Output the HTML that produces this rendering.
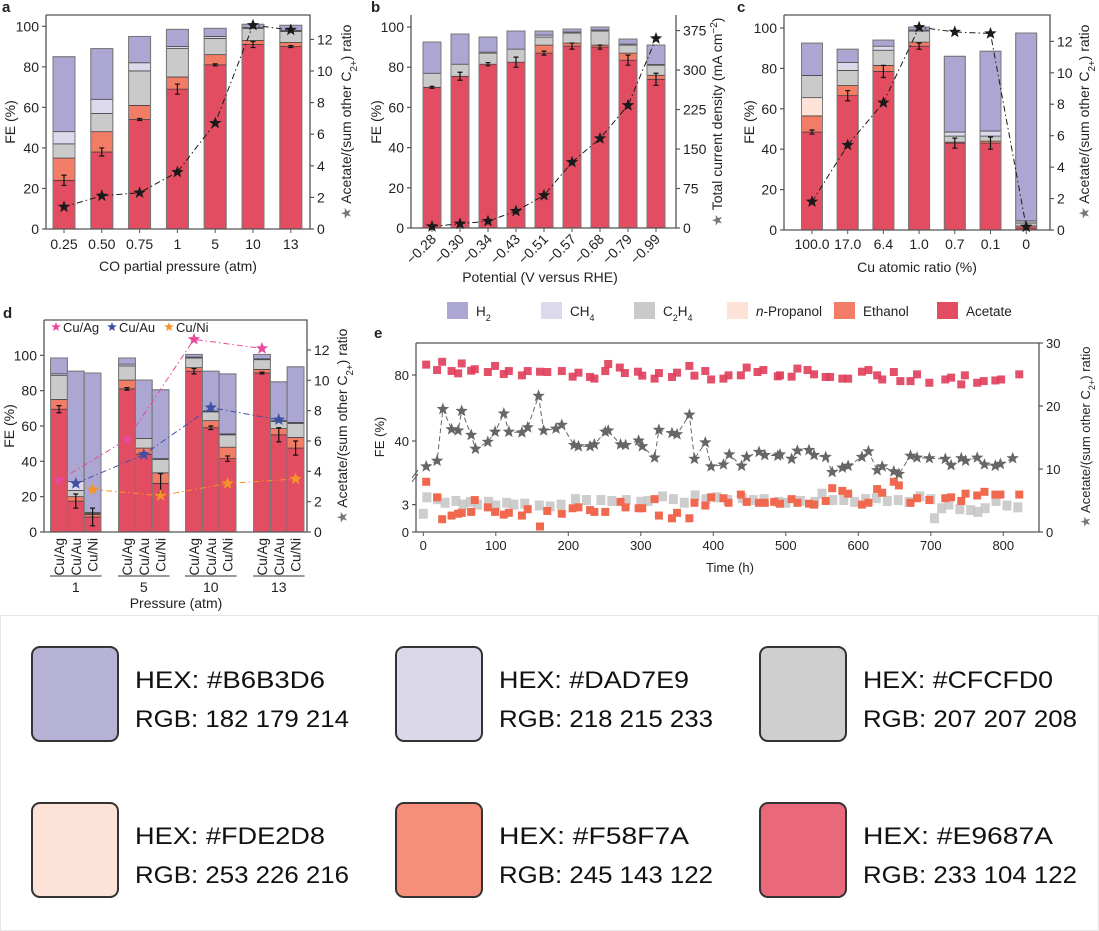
<!DOCTYPE html>
<html><head><meta charset="utf-8">
<style>
html,body{margin:0;padding:0;background:#fff;}
svg{display:block;font-family:"Liberation Sans",Arial,sans-serif;}
</style></head>
<body>
<svg id="fig" width="1099" height="931" viewBox="0 0 1099 931" xmlns="http://www.w3.org/2000/svg">
<rect x="0" y="0" width="1099" height="931" fill="#fff"/>
<rect x="0.5" y="615.5" width="1098" height="315" fill="#fff" stroke="#e6e6e6"/>
</svg>
<script>
// ---------- Panel a data ----------
const aCats=["0.25","0.50","0.75","1","5","10","13"];
const aAcetate=[24,38,54,69,81,91,90];
const aEthanol=[11,10,7,6,5,2,2];
const aPropanol=[0,0,0,0,0,0,0];
const aC2H4=[7,9,17,14,8,6,5.5];
const aCH4=[6,7,4,1,1,0.5,0.5];
const aH2=[37,25,13,8.5,4,1.5,2.5];
const aErr=[2.5,2,0.5,2.5,0.5,1.5,0.5];
const aRatio=[1.4,2.1,2.3,3.6,6.7,12.9,12.6];
const aYTicks=[0,20,40,60,80,100];
const aRTicks=[0,2,4,6,8,10,12];
// ---------- Panel b data ----------
const bCats=["\u22120.28","\u22120.30","\u22120.34","\u22120.43","\u22120.51","\u22120.57","\u22120.68","\u22120.79","\u22120.99"];
const bAcetate=[70,75.5,81.5,82.5,87,90.5,90,83.5,74];
const bEthanol=[0,0,0,0,4,1.5,1,3.5,2];
const bPropanol=[0,0,0,0,0,0,0,0,0];
const bC2H4=[7,6,5.5,6.5,4,5,7,4,5];
const bCH4=[0,0,0.5,0,1,0.5,0.5,0.5,0.3];
const bH2=[15.5,15,7.5,9,2,1.5,1.5,2.5,9.7];
const bErr=[0.5,2,0.8,2.5,1,1.5,1,2.5,3];
const bCurrent=[3,8,13,32,62,125,170,233,360];
const bYTicks=[0,20,40,60,80,100];
const bRTicks=[0,75,150,225,300,375];
// ---------- Panel c data ----------
const cCats=["100.0","17.0","6.4","1.0","0.7","0.1","0"];
const cAcetate=[48.5,66.5,78.5,91,43,43,1];
const cEthanol=[8,5,3,2,0.5,1,1];
const cPropanol=[9,0,0,0,0,0,0];
const cC2H4=[11,7.5,7.5,5.5,3,2.5,1.5];
const cCH4=[0,4,2,0.5,2,2.5,1];
const cH2=[16,6.5,3,1.5,37.5,39.5,93];
const cErr=[1,2.5,3,1.5,2.5,3,0];
const cRatio=[1.8,5.4,8.1,12.9,12.6,12.5,0.2];
const cYTicks=[0,20,40,60,80,100];
const cRTicks=[0,2,4,6,8,10,12];
// ---------- Panel d data ----------
const dGroups=["1","5","10","13"];
const dAlloys=["Cu/Ag","Cu/Au","Cu/Ni"];
const dAcetate=[69.5,17.5,8.5, 81,44,27.5, 91,59,41.5, 90,55,47.5];
const dEthanol=[5.5,2.5,1.5, 5,3.5,6, 2,4,6.5, 2,3.5,6];
const dPropanol=[0,0,0, 0,0,0, 0,0,0, 0,0,0];
const dC2H4=[13.5,3.5,0.5, 8,5.5,7.5, 5.5,5,7, 5.5,4,8];
const dCH4=[1,5,0.5, 1,0,0.5, 0.5,0.5,0.5, 0.5,0.5,0.5];
const dH2=[9,62.5,79, 3.5,33,39, 1.5,22.5,34, 2.5,22,31.5];
const dErr=[2,4,5, 0.7,1,5.5, 1.5,1,1.5, 0.5,4,4];
const dRatioAg=[3.4,6.1,12.7,12.1];
const dRatioAu=[3.2,5.1,8.2,7.4];
const dRatioNi=[2.8,2.4,3.2,3.5];
const dYTicks=[0,20,40,60,80,100];
const dRTicks=[0,2,4,6,8,10,12];
// ---------- Panel e data ----------
const eAcT=[4,19,26,39,48,53,66,71,89,99,111,118,136,144,161,171,191,206,214,230,236,251,255,271,278,296,302,319,325,343,350,367,374,389,397,414,421,438,446,461,469,489,492,508,516,530,539,555,561,578,586,605,614,626,633,649,658,672,681,698,720,728,742,747,764,773,789,797,822];
const eAcV=[86.3,83,88,82.4,81,87,82.6,83.5,81.8,85.5,80.6,82.4,79.8,82.4,82,81.8,82.4,79,81.4,78.8,77.8,82.4,86.7,84.5,81.2,82,79.6,77.8,81.2,78.8,81.4,85.5,79.6,82.4,77.3,77.8,79.8,79.8,84.5,81.8,83,79.2,79.8,79,83.9,83,80.4,78.8,78.8,77.8,77.8,82,83,79.8,77.3,81.8,76.3,76.3,80.4,75.3,77.3,78.4,74.3,79.8,75.3,76.3,76.7,77.3,80.4];
const eEtT=[4,19,26,39,48,53,66,71,89,99,111,118,136,144,161,171,191,206,214,230,236,251,272,279,297,302,319,325,343,350,367,374,389,397,414,421,438,446,463,471,484,492,508,516,532,539,555,564,578,586,605,614,626,633,649,656,672,681,698,720,728,742,748,764,774,789,796,822];
const eEtV=[5.5,3.8,1.4,1.8,2.0,2.1,2.2,3.5,2.7,2.2,1.9,2.1,1.8,2.5,0.6,2.3,2.0,2.6,2.7,2.4,2.2,2.2,3.3,2.7,2.6,2.6,3.6,1.8,1.5,2.1,1.5,3.2,2.9,3.8,3.7,3.2,4.1,3.3,3.2,3.2,3.3,3.1,3.6,3.2,3.1,3.0,3.4,4.8,4.5,4.2,3.0,3.2,4.7,4.3,5.5,5.1,3.2,3.7,3.5,3.7,3.8,3.4,4.2,4.0,4.4,4.1,4.1,4.1];
const eGrT=[0,5,20,30,45,55,65,75,90,100,115,125,140,160,175,190,210,225,245,260,280,300,310,330,345,360,375,390,405,420,440,455,470,490,500,520,540,550,565,580,595,610,625,640,655,670,685,700,705,715,725,740,755,765,775,790,805,820];
const eGrV=[2,3.8,3.6,3.2,3.4,3.0,3.3,3.0,3.3,2.9,3.2,3.0,3.1,2.9,2.8,3.0,3.6,3.5,3.5,3.4,3.5,3.3,3.4,3.9,3.6,3.2,4.0,3.6,3.8,3.5,3.7,3.5,3.6,3.3,3.2,3.4,3.3,4.2,3.5,3.5,3.3,3.6,3.7,3.4,3.5,3.3,3.9,3.6,1.5,2.6,3.0,2.5,2.4,2.2,2.6,3.4,2.9,2.7];
const eStT=[4,19,27,39,48,53,66,72,89,99,111,118,136,144,159,166,183,191,208,214,230,236,251,255,272,279,297,302,319,325,343,350,367,374,389,397,414,422,439,446,463,471,489,492,508,516,532,539,555,564,578,586,605,614,626,633,649,656,672,681,698,720,728,742,748,764,774,789,796,813];
const eStV=[10.4,11.3,19.5,16.3,16.1,19.2,15.4,13.2,14.3,15.9,18.8,15.9,15.8,16.6,21.6,16.1,16.4,17,13.8,13.6,13.6,13.9,15.9,16.1,13.9,13.8,14.5,13.6,11.8,16.2,15.7,15.5,18.6,11.6,14.2,10.4,10.7,12.3,10.5,11.9,12.7,12.2,12.1,12.3,11.6,12.9,13,12.2,11.9,9.5,10.2,10.5,11.9,12.8,9.8,10.4,9.6,9.2,12.1,11.8,11.7,11.6,10.6,11.7,11.3,11.8,10.7,10.5,10.8,11.7];
const eXTicks=[0,100,200,300,400,500,600,700,800];
const eYTicksUpper=[40,80];
const eYTicksLower=[0,3];
const eRTicks=[0,10,20,30];
// ---------- Swatches ----------
const swHex=["#B6B3D6","#DAD7E9","#CFCFD0","#FDE2D8","#F58F7A","#E9687A"];
const swRgb=["182 179 214","218 215 233","207 207 208","253 226 216","245 143 122","233 104 122"];

const NS='http://www.w3.org/2000/svg';
const svg=document.getElementById('fig');
const COL=['#e24d62','#f27d67','#fde2d8','#c9cac9','#dcd9ec','#aba7d2'];
const SEG=['acetate','ethanol','n-propanol','c2h4','ch4','h2'];
const AX='#555', TX='#222';
function mk(tag,attrs,parent){const e=document.createElementNS(NS,tag);for(const k in attrs)e.setAttribute(k,attrs[k]);(parent||svg).appendChild(e);return e;}
function T(parent,x,y,s,size,anchor,extra){const e=mk('text',Object.assign({x:x,y:y,'font-size':size,'text-anchor':anchor||'middle',fill:TX},extra||{}),parent);e.textContent=s;return e;}
function starPath(cx,cy,r){let d='';for(let i=0;i<10;i++){const a=-Math.PI/2+i*Math.PI/5;const rr=i%2?r*0.42:r;d+=(i?'L':'M')+(cx+rr*Math.cos(a)).toFixed(1)+','+(cy+rr*Math.sin(a)).toFixed(1);}return d+'Z';}
function group(name){const g=mk('g',{});return g;}

function drawStack(g,cx,w,yF,vals,err,name){
  let cum=0;
  for(let i=0;i<6;i++){
    if(vals[i]>0){
      const y0=yF(cum),y1=yF(cum+vals[i]);
      const r=mk('rect',{x:cx-w/2,y:y1,width:w,height:y0-y1,fill:COL[i],stroke:'#3a3a3a','stroke-width':0.7},g);
      
      
    }
    cum+=vals[i];
  }
  const o=mk('rect',{x:cx-w/2,y:yF(cum),width:w,height:yF(0)-yF(cum),fill:'none',stroke:'#7a7a7a','stroke-width':1},g);
  
  
  if(err>0){
    const t=yF(vals[0]+err),b=yF(vals[0]-err);
    const e=mk('path',{d:`M${cx},${t}V${b}M${cx-2.5},${t}H${cx+2.5}M${cx-2.5},${b}H${cx+2.5}`,stroke:'#111','stroke-width':1.2,fill:'none'},g);
    
    
  }
}
function frame(g,L,R,Tp,B,top){
  const d=`M${L},${Tp}V${B}H${R}V${Tp}`+(top?`H${L}`:'');
  const f=mk('path',{d:d,fill:'none',stroke:AX,'stroke-width':1.3},g);
  
  
}
function yAxisL(g,L,yF,ticks,size){
  ticks.forEach(v=>{const y=yF(v);
    const t=mk('line',{x1:L-4,x2:L,y1:y,y2:y,stroke:AX,'stroke-width':1.2},g);
    
    
    const l=T(g,L-7,y+5,String(v),size,'end');
    
    });
}
function yAxisR(g,R,yF,ticks,size){
  ticks.forEach(v=>{const y=yF(v);
    const t=mk('line',{x1:R,x2:R+4,y1:y,y2:y,stroke:AX,'stroke-width':1.2},g);
    
    
    const l=T(g,R+7,y+5,String(v),size,'start');
    
    });
}
function rotLabel(g,x,y,parts,size,name){
  const t=mk('text',{x:0,y:0,'font-size':size,'text-anchor':'middle',fill:TX,transform:`translate(${x},${y}) rotate(-90)`},g);
  
  
  parts.forEach(p=>{const s=mk('tspan',p.a||{},t);s.textContent=p.s;});
  return t;
}
function ratioLabel(g,x,y,size){
  return rotLabel(g,x,y,[{s:'\u2605 ',a:{fill:'#777'}},{s:'Acetate/(sum other C'},{s:'2+',a:{'baseline-shift':'sub','font-size':size*0.7}},{s:') ratio'}],size,'right-y-axis-title');
}
function starLine(g,xs,ys,color,dash,name){
  let d='';xs.forEach((x,i)=>{d+=(i?'L':'M')+x+','+ys[i];});
  const p=mk('path',{d:d,fill:'none',stroke:color,'stroke-width':1,'stroke-dasharray':dash},g);
  
  
  xs.forEach((x,i)=>{const s=mk('path',{d:starPath(x,ys[i],6.5),fill:color},g);
    
    });
}
function panelLetter(x,y,s){const t=T(svg,x,y,s,15,'start',{'font-weight':'bold'});}

// ---------- Panel a ----------
(function(){
  const g=group('panel-a');
  const L=46,R=310,Tp=15,B=229;
  const yF=v=>B-v*2.027, rF=v=>B-v*15.8, xF=i=>64+i*37.8;
  aCats.forEach((c,i)=>drawStack(g,xF(i),22,yF,[aAcetate[i],aEthanol[i],aPropanol[i],aC2H4[i],aCH4[i],aH2[i]],aErr[i],'bar-a-'+c));
  frame(g,L,R,Tp,B,true);
  yAxisL(g,L,yF,aYTicks,14);yAxisR(g,R,rF,aRTicks,14);
  aCats.forEach((c,i)=>{const t=mk('line',{x1:xF(i),x2:xF(i),y1:B,y2:B+4,stroke:AX},g);
    const l=T(g,xF(i),B+20,c,14);});
  starLine(g,aCats.map((c,i)=>xF(i)),aRatio.map(rF),'#1a1a1a','6,3,1.5,3','ratio-a');
  const xt=T(g,178,271,'CO partial pressure (atm)',14);
  rotLabel(g,15,122,[{s:'FE (%)'}],14,'y-axis-title');
  ratioLabel(g,351,122,14);
})();
// ---------- Panel b ----------
(function(){
  const g=group('panel-b');
  const L=411,R=676,Tp=15,B=228;
  const yF=v=>B-v*2.01, rF=v=>B-v*0.5265, xF=i=>432+i*28;
  bCats.forEach((c,i)=>drawStack(g,xF(i),18,yF,[bAcetate[i],bEthanol[i],bPropanol[i],bC2H4[i],bCH4[i],bH2[i]],bErr[i],'bar-b-'+i));
  frame(g,L,R,Tp,B,false);
  yAxisL(g,L,yF,bYTicks,14);yAxisR(g,R,rF,bRTicks,14);
  bCats.forEach((c,i)=>{const t=mk('line',{x1:xF(i),x2:xF(i),y1:B,y2:B+4,stroke:AX},g);
    const l=T(g,0,0,c,14,'end',{transform:`translate(${xF(i)+5},${B+12}) rotate(-45)`});});
  starLine(g,bCats.map((c,i)=>xF(i)),bCurrent.map(rF),'#1a1a1a','6,3,1.5,3','current-b');
  const xt=T(g,540,282,'Potential (V versus RHE)',14);
  rotLabel(g,381,122,[{s:'FE (%)'}],14,'y-axis-title');
  rotLabel(g,722,122,[{s:'\u2605 ',a:{fill:'#777'}},{s:'Total current density (mA cm'},{s:'\u22122',a:{'baseline-shift':'super','font-size':10}},{s:')'}],14,'right-y-axis-title');
})();
// ---------- Panel c ----------
(function(){
  const g=group('panel-c');
  const L=784,R=1050,Tp=15,B=230;
  const yF=v=>B-v*2.02, rF=v=>B-v*15.72, xF=i=>812+i*35.7;
  cCats.forEach((c,i)=>drawStack(g,xF(i),21,yF,[cAcetate[i],cEthanol[i],cPropanol[i],cC2H4[i],cCH4[i],cH2[i]],cErr[i],'bar-c-'+i));
  frame(g,L,R,Tp,B,true);
  yAxisL(g,L,yF,cYTicks,14);yAxisR(g,R,rF,cRTicks,14);
  cCats.forEach((c,i)=>{const t=mk('line',{x1:xF(i),x2:xF(i),y1:B,y2:B+4,stroke:AX},g);
    const l=T(g,xF(i),B+19,c,14);});
  starLine(g,cCats.map((c,i)=>xF(i)),cRatio.map(rF),'#1a1a1a','6,3,1.5,3','ratio-c');
  const xt=T(g,917,272,'Cu atomic ratio (%)',14);
  rotLabel(g,754,122,[{s:'FE (%)'}],14,'y-axis-title');
  ratioLabel(g,1089,122,14);
})();
// ---------- Legend ----------
(function(){
  const g=group('legend');
  const items=[['H','2',447],['CH','4',541],['C','2',634],['n-Propanol','',727],['Ethanol','',834],['Acetate','',937]];
  const cols=[COL[5],COL[4],COL[3],COL[2],COL[1],COL[0]];
  items.forEach((it,i)=>{
    const r=mk('rect',{x:it[2],y:302,width:21,height:17,fill:cols[i]},g);
    
    
    const t=mk('text',{x:it[2]+29,y:316,'font-size':13.5,fill:TX},g);
    
    
    if(i===2){const a=mk('tspan',{},t);a.textContent='C';const b=mk('tspan',{'baseline-shift':'sub','font-size':9},t);b.textContent='2';const c=mk('tspan',{},t);c.textContent='H';const d=mk('tspan',{'baseline-shift':'sub','font-size':9},t);d.textContent='4';}
    else if(i===3){const a=mk('tspan',{'font-style':'italic'},t);a.textContent='n';const b=mk('tspan',{},t);b.textContent='-Propanol';}
    else {const a=mk('tspan',{},t);a.textContent=it[0];if(it[1]){const b=mk('tspan',{'baseline-shift':'sub','font-size':9},t);b.textContent=it[1];}}
  });
})();
// ---------- Panel d ----------
(function(){
  const g=group('panel-d');
  const L=44,R=307,Tp=320,B=532;
  const yF=v=>B-v*1.767, rF=v=>B-v*15.17;
  const gx=[59,127,194,262];
  const xF=(gi,ai)=>gx[gi]+ai*16.8;
  dGroups.forEach((gr,gi)=>dAlloys.forEach((al,ai)=>{const k=gi*3+ai;
    drawStack(g,xF(gi,ai),16.8,yF,[dAcetate[k],dEthanol[k],dPropanol[k],dC2H4[k],dCH4[k],dH2[k]],dErr[k],'bar-d-'+gr+'-'+al);
    const l=T(g,0,0,al,13.5,'end',{transform:`translate(${xF(gi,ai)+5},${B+6}) rotate(-90)`});
    
    
  }));
  frame(g,L,R,Tp,B,true);
  yAxisL(g,L,yF,dYTicks,14);yAxisR(g,R,rF,dRTicks,14);
  dGroups.forEach((gr,gi)=>{
    const ln=mk('line',{x1:xF(gi,0)-9,x2:xF(gi,2)+9,y1:576,y2:576,stroke:'#333','stroke-width':1},g);
    
    
    const l=T(g,xF(gi,1),592,gr,14);
    
    
  });
  starLine(g,gx.map((v,i)=>xF(i,0)),dRatioAg.map(rF),'#e8499a','6,3,1.5,3','ratio-cu-ag');
  starLine(g,gx.map((v,i)=>xF(i,1)),dRatioAu.map(rF),'#3e50a6','6,3,1.5,3','ratio-cu-au');
  starLine(g,gx.map((v,i)=>xF(i,2)),dRatioNi.map(rF),'#f59428','6,3,1.5,3','ratio-cu-ni');
  [['Cu/Ag','#e8499a',56],['Cu/Au','#3e50a6',112],['Cu/Ni','#f59428',169]].forEach(e=>{
    const s=mk('path',{d:starPath(e[2],327,5),fill:e[1]},g);
    
    
    const t=T(g,e[2]+7,332,e[0],13,'start');
    
    
  });
  const xt=T(g,176,608,'Pressure (atm)',14);
  rotLabel(g,14,426,[{s:'FE (%)'}],14,'y-axis-title');
  ratioLabel(g,347,426,14);
})();
// ---------- Panel e ----------
(function(){
  const g=group('panel-e');
  const L=416,R=1039,Tp=343,B=532;
  const xF=h=>423.3+h*0.725;
  const yF=v=>v<=6?B-v*9.13:474-(v-20)*1.65;
  const rF=v=>B-v*6.3;
  frame(g,L,R,Tp,B,true);
  eXTicks.forEach(v=>{const t=mk('line',{x1:xF(v),x2:xF(v),y1:B,y2:B+4,stroke:AX},g);
    const l=T(g,xF(v),B+18,String(v),13);});
  yAxisL(g,L,yF,eYTicksLower.concat(eYTicksUpper),13);
  yAxisR(g,R,rF,eRTicks,13);
  const br=mk('path',{d:`M${L-4},${478}L${L+2},${470}M${L-4},${482}L${L+2},${474}`,stroke:'#555',fill:'none'},g);
  
  
  eGrT.forEach((h,i)=>{const r=mk('rect',{x:xF(h)-4.5,y:yF(eGrV[i])-5,width:9,height:10,fill:'#c4c4c6','fill-opacity':0.85},g);
    
    });
  eEtT.forEach((h,i)=>{const r=mk('rect',{x:xF(h)-4,y:yF(eEtV[i])-4,width:8,height:8,fill:'#f0694f'},g);
    
    });
  eAcT.forEach((h,i)=>{const r=mk('rect',{x:xF(h)-4,y:yF(eAcV[i])-4,width:8,height:8,fill:'#e03d5a','fill-opacity':0.9},g);
    
    });
  starLine(g,eStT.map(xF),eStV.map(rF),'#666','5,3','ratio-e');
  const xt=T(g,730,572,'Time (h)',13);
  rotLabel(g,384,437,[{s:'FE (%)'}],13,'y-axis-title');
  ratioLabel(g,1090,437,13);
})();
panelLetter(2,12,'a');panelLetter(371,12,'b');panelLetter(737,12,'c');panelLetter(3,318,'d');panelLetter(374,338,'e');
// ---------- Swatches ----------
(function(){
  const g=group('color-swatches');
  swHex.forEach((h,i)=>{
    const x=32+(i%3)*364, y=647+Math.floor(i/3)*156;
    const r=mk('rect',{x:x,y:y,width:86,height:94,rx:8,fill:h,stroke:'#333','stroke-width':2},g);
    
    
    const t1=T(g,x+103,y+41,'HEX: '+h,24,'start',{textLength:190,lengthAdjust:'spacingAndGlyphs',fill:'#111'});
    
    
    const t2=T(g,x+103,y+80,'RGB: '+swRgb[i],24,'start',{textLength:214,lengthAdjust:'spacingAndGlyphs',fill:'#111'});
    
    
  });
})();
</script>
</body></html>
